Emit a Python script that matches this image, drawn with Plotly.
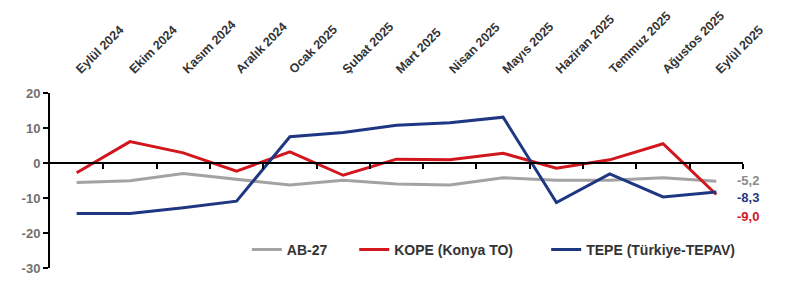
import plotly.graph_objects as go

months = ["Eylül 2024", "Ekim 2024", "Kasım 2024", "Aralık 2024", "Ocak 2025", "Şubat 2025",
          "Mart 2025", "Nisan 2025", "Mayıs 2025", "Haziran 2025", "Temmuz 2025", "Ağustos 2025", "Eylül 2025"]
ab27 = [-5.6, -5.1, -3.0, -4.6, -6.3, -4.9, -6.0, -6.3, -4.2, -4.9, -4.9, -4.2, -5.2]
kope = [-2.8, 6.1, 2.9, -2.3, 3.2, -3.5, 1.1, 0.9, 2.8, -1.5, 0.9, 5.5, -9.0]
tepe = [-14.4, -14.4, -12.8, -10.9, 7.5, 8.7, 10.8, 11.5, 13.1, -11.3, -3.1, -9.7, -8.3]
yticks = [-30, -20, -10, 0, 10, 20]

idx = list(range(len(months)))
font = "Liberation Sans"

fig = go.Figure()
series = [
    ("<b>AB-27</b>", ab27, "#a3a3a3", "legend", 0.284),
    ("<b>KOPE (Konya TO)</b>", kope, "#d2161e", "legend2", 0.439),
    ("<b>TEPE (Türkiye-TEPAV)</b>", tepe, "#1f3783", "legend3", 0.716),
]
for name, vals, col, lg, _ in series:
    fig.add_trace(go.Scatter(x=idx, y=vals, mode="lines", name=name, legend=lg,
                             line=dict(color=col, width=3), hoverinfo="skip"))

# end labels
for vals, col, ys in [(ab27, "#8a8a8a", 1), (tepe, "#1f3783", -5), (kope, "#d2161e", -22)]:
    fig.add_annotation(x=idx[-1], y=vals[-1], text="<b>" + f"{vals[-1]:.1f}".replace(".", ",") + "</b>",
                       showarrow=False, xshift=32, yshift=ys,
                       font=dict(family=font, size=13, color=col))

n = len(months)
legend_style = dict(orientation="h", y=0.103, xanchor="left", yanchor="middle",
                    font=dict(family=font, size=14, color="#333333"),
                    bgcolor="rgba(0,0,0,0)", itemwidth=30)
layout_legends = {}
for name, vals, col, lg, lx in series:
    layout_legends[lg] = dict(legend_style, x=lx)

fig.update_layout(
    width=785, height=290,
    margin=dict(l=42, r=50, t=85, b=30),
    plot_bgcolor="white", paper_bgcolor="white",
    showlegend=True,
    **layout_legends,
    xaxis=dict(side="top", range=[-0.5, n - 0.5], tickmode="array", tickvals=idx,
               ticktext=["<b>" + m + "</b>" for m in months], tickangle=-45,
               ticks="outside", ticklen=11, tickcolor="rgba(0,0,0,0)", automargin=False,
               tickfont=dict(family=font, size=12.5, color="#333333"),
               showgrid=False, showline=False, zeroline=False),
    xaxis2=dict(overlaying="x", anchor="free", position=0.6, range=[-0.5, n - 0.5],
                tickmode="array", tickvals=[i + 0.5 for i in idx], showticklabels=False,
                ticks="outside", ticklen=5, tickwidth=2, tickcolor="black", automargin=False,
                showline=True, linecolor="black", linewidth=2, showgrid=False, zeroline=False),
    yaxis=dict(range=[-30, 20], tickmode="array", tickvals=yticks, automargin=False,
               ticktext=["<b>" + str(v) + "</b>" for v in yticks], ticks="outside", ticklen=5, tickwidth=2,
               tickcolor="black", showline=True, linecolor="black", linewidth=2,
               showgrid=False, zeroline=False,
               tickfont=dict(family=font, size=13, color="#707070")),
)
# dummy to activate xaxis2
fig.add_trace(go.Scatter(x=[0], y=[0], xaxis="x2", mode="markers", marker=dict(opacity=0),
                         showlegend=False, hoverinfo="skip"))

fig.write_html("out.html")
